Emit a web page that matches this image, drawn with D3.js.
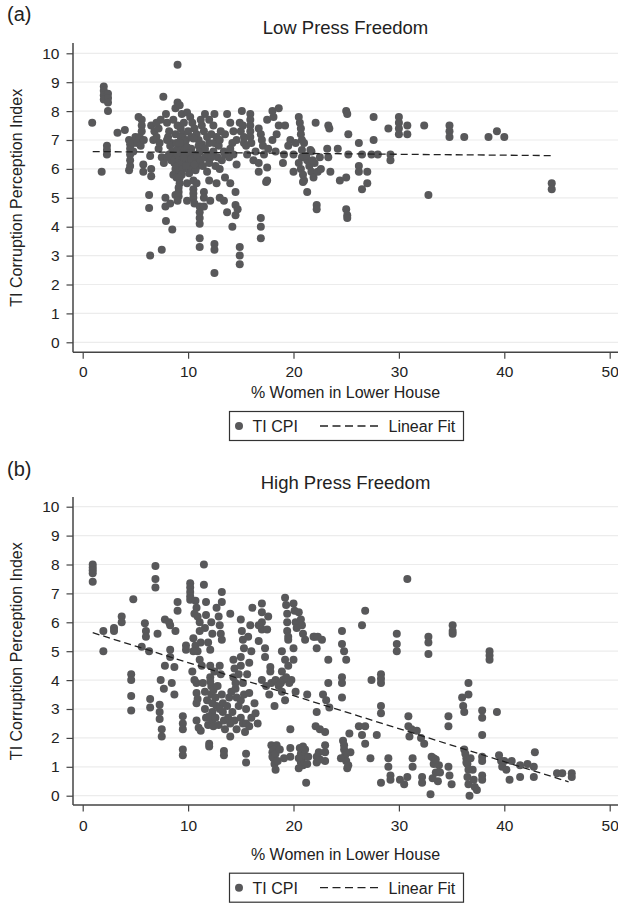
<!DOCTYPE html>
<html>
<head>
<meta charset="utf-8">
<script src="https://cdn.jsdelivr.net/npm/d3@7"></script>
<style>
  body { margin: 0; background: #fff; }
  text { font-family: "Liberation Sans", Arial, Helvetica, sans-serif; fill: #222; }
</style>
</head>
<body>
<svg id="chart" width="618" height="903"></svg>
<script>
var xTicks = [0, 10, 20, 30, 40, 50];
var yTicks = [0, 1, 2, 3, 4, 5, 6, 7, 8, 9, 10];
var legendLabels = ["TI CPI", "Linear Fit"];
var xAxisTitle = "% Women in Lower House";
var yAxisTitle = "TI Corruption Perception Index";

// panel (a): low press freedom, [% women, CPI]
var lowPressPoints = [
  [0.9,7.6],[2.0,8.85],[2.0,8.7],[2.0,8.55],[2.0,8.4],[2.4,8.6],[2.4,8.45],[2.4,8.3],[2.4,8.0],
  [2.3,6.8],[2.3,6.65],[2.3,6.5],[1.8,5.9],
  [3.3,7.25],[4.0,7.35],[4.4,7.0],[4.5,6.85],[4.5,6.7],[4.5,6.5],[4.5,6.3],[4.5,6.1],[4.4,5.95],
  [4.8,6.9],[4.8,6.6],[5.0,7.1],[5.3,7.8],[5.6,7.7],[5.6,7.5],[5.6,7.3],[5.4,7.1],[5.2,6.9],[5.5,6.8],
  [5.8,7.0],[5.75,6.15],[5.75,5.9],
  [6.5,6.0],[6.5,5.75],[6.4,6.45],[7.2,6.7],[6.5,7.5],[6.8,7.3],[7.0,7.1],[7.2,7.4],[6.7,7.0],[7.3,6.9],
  [7.65,8.5],[7.9,7.9],[8.0,7.6],[8.2,7.3],[8.1,7.1],[8.4,6.9],[8.0,7.0],
  [6.3,5.1],[6.3,4.65],[6.4,3.0],[7.5,3.2],[7.9,4.2],[8.5,3.9],[7.85,5.0],[7.85,4.7],[8.3,4.8],[8.8,5.1],
  [8.8,8.1],[9.0,8.3],[9.2,8.2],[9.4,7.9],[9.9,7.95],[9.0,9.6],[8.6,7.7],[9.0,7.5],[9.3,7.4],[9.6,7.6],
  [9.5,7.2],[9.8,7.0],[8.8,7.2],
  [8.3,6.8],[8.5,6.6],[8.6,6.4],[8.7,6.2],[8.8,6.0],[8.6,5.8],[9.0,6.7],[9.1,6.5],[9.1,6.3],[9.0,6.1],
  [9.2,5.9],[9.4,6.8],[9.6,6.6],[9.8,6.4],[10.0,6.2],[10.2,6.0],[9.7,6.9],[10.3,6.7],[10.5,6.5],[10.7,6.3],
  [10.9,6.1],[10.7,5.95],[11.0,6.8],[11.1,6.6],[9.4,6.2],[9.5,6.0],[9.6,6.4],
  [8.2,6.5],[8.4,6.3],[8.9,6.9],[9.3,7.1],[9.6,6.95],[9.9,6.75],[10.1,6.55],[10.3,6.35],[10.6,6.15],
  [10.9,6.45],[11.2,6.3],[11.4,6.1],[11.3,6.85],[10.0,7.3],[10.3,7.1],[9.2,6.9],[9.8,6.1],[10.1,5.85],
  [9.4,5.8],[8.9,5.7],[7.5,6.4],[7.7,6.2],[8.0,6.4],[7.4,7.7],[7.0,7.6],
  [10.2,7.8],[10.4,7.6],[10.6,7.4],[10.8,7.2],[11.0,7.0],[11.3,7.5],[11.5,7.3],[11.8,7.1],[12.0,6.9],
  [12.2,7.2],[12.4,7.5],[11.6,7.9],[12.5,7.9],[12.0,7.7],[11.2,7.7],[10.5,7.05],
  [12.4,6.6],[12.8,6.4],[13.2,6.3],[13.4,6.6],[12.6,6.1],[13.0,6.0],[11.6,6.4],[12.0,6.2],[11.8,5.9],
  [11.6,6.7],[11.9,6.5],[12.2,6.4],[12.5,6.9],[12.9,6.8],[13.1,7.3],[12.7,7.1],[13.5,6.5],[13.9,6.4],
  [14.3,6.5],
  [13.7,7.9],[14.0,7.6],[14.3,7.3],[14.6,7.0],[14.9,7.6],[15.0,7.3],[14.2,6.9],[14.6,6.15],[13.5,7.2],
  [13.0,7.0],[15.3,7.1],[14.0,6.7],
  [9.2,5.7],[9.2,5.5],[9.1,5.35],[9.1,5.2],[9.1,5.05],[9.0,4.9],[9.9,5.5],[9.9,4.9],[10.5,5.6],[10.5,5.3],
  [10.5,5.15],[10.5,5.0],[10.6,4.8],[10.8,5.5],
  [11.1,4.7],[11.1,4.5],[11.1,4.3],[11.1,4.1],[11.1,3.6],[11.1,3.3],[11.5,5.2],[11.5,5.0],[11.5,4.7],
  [12.1,4.9],[12.5,3.4],[12.5,3.2],[12.5,2.4],[13.0,5.0],[13.4,4.9],[13.7,4.5],[14.2,4.0],[14.5,4.75],
  [14.5,4.4],[14.7,4.6],[14.9,3.3],[14.9,3.0],[14.9,2.7],[12.0,5.6],[12.7,5.5],[13.5,5.7],[14.0,5.5],[14.5,5.2],
  [16.9,4.3],[16.9,4.0],[16.9,3.6],[17.4,5.55],
  [15.1,8.0],[15.9,7.9],[15.9,7.7],[15.9,7.5],[15.9,7.3],[15.9,7.1],[15.2,7.5],[15.3,6.9],[16.7,7.4],
  [16.9,7.2],[17.0,7.0],[17.1,6.8],[17.2,6.5],[17.5,7.7],[18.0,8.0],[18.6,8.1],[18.1,7.8],[18.6,7.5],
  [19.2,7.5],[19.7,7.0],[20.5,7.8],[20.6,7.6],[20.7,7.4],[20.7,7.2],[20.8,7.0],
  [15.5,6.8],[16.0,6.9],[16.4,6.6],[18.0,7.0],[18.4,7.2],[19.5,6.8],[19.0,6.2],
  [15.6,6.5],[16.2,6.3],[17.6,6.7],[18.3,6.6],[19.1,6.5],[20.8,6.65],[20.8,6.4],[21.6,6.65],[16.7,6.2],
  [16.7,5.9],[17.5,6.05],[17.5,5.6],[20.0,5.9],
  [20.5,6.2],[20.7,6.0],[20.9,5.8],[21.0,5.6],[21.3,6.3],[21.5,6.1],[21.7,5.9],[21.9,5.7],[22.0,6.2],
  [21.2,6.45],[20.9,5.55],[21.3,5.2],[22.2,4.75],[22.2,4.6],[22.5,6.4],[23.3,6.4],[21.7,6.6],[22.1,7.6],
  [23.3,7.5],[23.4,7.4],[20.0,6.5],[20.2,6.9],[21.0,6.9],[21.8,6.3],[22.3,5.9],[22.6,6.0],
  [24.2,6.7],[23.2,6.7],[23.5,5.9],[24.4,5.6],[25.0,5.7],[25.0,4.6],[25.1,4.4],[25.1,4.3],[25.0,8.0],
  [25.1,7.9],[27.6,7.8],[30.0,7.8],[25.2,7.2],[26.2,6.9],[27.6,7.0],[29.0,7.4],[30.0,7.6],[30.0,7.4],
  [30.0,7.2],[30.8,7.5],[30.8,7.2],[25.2,6.5],[26.5,6.5],[27.4,6.5],[28.0,6.5],[29.2,6.5],[29.2,6.3],
  [26.2,6.1],[26.2,5.9],[27.0,5.9],[27.0,5.5],[26.5,5.3],
  [32.4,7.5],[34.8,7.5],[34.8,7.3],[34.8,7.1],[36.2,7.1],[38.5,7.1],[39.3,7.3],[40.0,7.1],[32.8,5.1],
  [44.5,5.5],[44.5,5.3]
];
var lowPressFit = [[0.95, 6.60], [44.4, 6.46]];

// panel (b): high press freedom, [% women, CPI]
var highPressPoints = [
  [0.95,8.0],[0.95,7.9],[0.95,7.8],[0.95,7.7],[0.95,7.4],[1.96,5.7],[1.96,5.0],[2.97,5.8],[2.97,5.7],
  [3.7,6.2],[3.7,6.0],[4.8,6.8],
  [4.6,4.2],[4.6,4.0],[4.6,3.45],[4.6,2.95],[5.6,5.15],[5.9,5.97],[6.0,5.7],[6.0,5.5],[6.3,5.0],
  [6.4,3.35],[6.4,3.05],[6.9,7.95],[6.9,7.5],[6.9,7.2],[7.1,5.6],
  [7.3,3.15],[7.3,2.9],[7.3,2.65],[7.5,2.3],[7.5,2.05],[7.4,4.0],[7.7,3.7],[7.8,4.5],[7.8,6.1],[8.3,5.9],
  [8.8,5.7],[8.3,5.05],[8.3,4.8],[8.7,4.45],[8.7,3.5],[9.0,6.7],[9.0,6.4],[8.45,3.9],[8.2,6.0],
  [9.5,2.75],[9.5,2.5],[9.5,2.3],[9.5,1.6],[9.5,1.4],[9.8,5.2],[9.8,5.05],[10.2,7.35],[10.2,7.2],
  [10.2,7.05],[10.2,6.9],[10.2,6.78],[10.7,6.75],[10.8,6.5],[10.9,6.2],[11.1,6.0],[10.6,6.3],
  [10.5,5.45],[10.7,5.2],[10.9,5.0],[11.1,4.7],[11.3,4.5],[10.5,5.0],[11.2,5.3],
  [10.8,3.9],[10.8,3.55],[10.8,3.2],[10.9,3.35],[10.8,2.6],[11.0,2.35],[11.2,2.25],
  [10.4,4.3],[10.6,4.0],[11.4,3.9],[11.6,3.6],[11.8,3.3],[11.6,3.0],[11.7,2.7],[11.9,2.45],
  [11.9,5.3],[12.3,5.6],[11.6,5.8],[12.2,6.0],[11.1,5.7],
  [11.5,8.0],[11.5,7.3],[11.7,6.7],[11.7,6.25],[12.1,5.05],[12.1,4.5],[12.0,1.8],[12.0,1.7],[12.1,4.1],
  [12.2,3.8],[12.2,3.5],[12.3,3.2],[12.3,2.9],[12.3,2.6],[12.4,2.4],[12.1,3.95],[12.4,3.65],[12.0,2.75],
  [12.6,2.7],[12.7,3.1],[12.6,3.4],[12.5,4.3],[12.9,2.45],
  [12.7,6.5],[12.9,6.2],[13.0,5.9],[13.1,5.6],[13.2,5.4],[13.2,7.05],[13.2,6.7],[13.0,4.5],[13.1,4.2],
  [13.2,3.5],[13.3,3.2],[13.3,2.9],[13.4,2.6],[13.5,2.3],[13.4,1.55],[13.4,1.4],[12.8,3.8],[13.0,3.0],
  [13.7,3.1],[13.8,2.7],[13.9,3.4],[14.1,3.6],[14.4,2.6],[14.6,2.3],[14.8,4.2],[14.4,4.4],
  [14.0,6.3],[14.0,2.05],[14.3,4.7],[14.3,4.1],[14.5,3.7],[14.6,3.4],[14.8,3.1],[15.0,2.7],[15.2,2.5],
  [14.5,3.9],[15.0,3.3],[15.0,6.1],[15.1,5.7],[15.2,5.4],[15.3,5.1],[15.0,4.8],[15.0,4.5],[15.2,3.9],
  [15.3,3.5],[15.5,3.0],[15.5,2.5],[15.4,2.2],[15.5,1.45],[15.5,1.15],[14.2,2.9],[14.0,2.5],
  [15.8,2.4],[16.0,2.7],[16.3,3.2],[15.6,4.2],[15.8,4.6],[16.0,5.0],[15.7,5.5],[15.9,5.9],
  [15.8,3.55],[16.1,6.5],[16.4,2.85],[16.6,2.5],[16.7,5.35],[17.0,6.65],[17.0,6.35],[17.0,6.0],[17.0,5.75],
  [16.7,5.9],[17.5,5.75],[17.3,5.1],[17.3,4.8],[17.0,4.0],[17.4,3.8],[17.6,6.2],[17.8,4.45],[17.8,4.3],
  [17.7,3.5],[17.9,3.9],
  [17.9,1.75],[18.0,1.5],[18.1,1.3],[18.2,1.1],[18.3,0.9],[18.0,1.35],[18.4,1.75],[18.2,3.1],[18.3,4.0],
  [18.6,3.8],[18.9,3.6],[19.2,3.3],[18.8,3.9],[19.0,4.0],
  [18.1,1.6],[18.3,1.45],[18.5,1.2],[18.7,1.6],[19.1,1.3],
  [18.9,5.0],[19.2,4.7],[19.5,4.5],[19.2,6.85],[19.3,6.6],[19.4,6.3],[19.4,6.0],[19.4,5.7],[19.5,5.5],
  [19.5,5.4],[19.7,2.3],[19.7,1.65],[19.7,1.35],[20.0,6.65],[20.1,6.4],[20.2,6.0],[20.3,5.8],[20.0,5.1],
  [20.0,4.7],[20.5,6.35],[20.7,6.1],[20.8,5.9],[20.9,5.6],[21.1,5.4],[20.6,1.65],[20.7,1.45],[20.8,1.25],
  [20.9,1.05],[21.0,1.4],[20.7,1.15],[21.1,1.6],[21.2,0.45],[21.3,3.5],
  [19.8,4.0],[20.2,3.6],[19.6,3.9],[18.9,4.3],[19.3,4.1],
  [20.5,1.3],[21.3,1.1],[21.4,1.35],[20.9,1.7],[20.5,0.95],
  [22.0,5.5],[22.2,5.1],[22.2,2.9],[22.1,2.4],[22.5,2.3],[23.0,2.2],[22.2,1.35],[22.2,1.15],[22.7,5.4],
  [22.8,3.5],[23.1,3.3],[23.4,3.05],[23.0,1.75],[23.0,1.5],[23.0,1.2],[23.3,4.7],[23.3,3.9],[21.9,5.5],
  [22.3,5.5],[22.5,1.25],[22.4,1.5],
  [24.6,5.7],[24.6,5.25],[24.8,5.0],[25.0,4.7],[24.6,4.1],[24.6,3.9],[24.6,3.4],[24.7,1.9],[24.8,1.6],
  [24.9,1.4],[25.0,1.2],[25.1,0.95],[25.3,2.15],[25.4,1.5],[26.2,2.4],[26.5,2.1],[26.8,1.8],[26.8,2.4],
  [26.5,5.9],[26.8,6.4],[27.3,1.3],[27.4,4.0],[27.9,2.1],[24.8,1.75],[25.2,1.05],[24.5,1.3],
  [28.3,4.2],[28.3,4.05],[28.3,3.9],[28.3,3.1],[28.3,2.85],[28.3,0.45],[29.0,1.3],[29.0,1.0],[29.2,0.7],
  [29.2,0.55],[29.8,5.6],[29.8,5.25],[29.8,5.0],[30.1,0.55],[30.5,0.4],[30.8,0.65],[30.8,7.5],[30.9,2.75],
  [30.9,2.4],[31.0,2.05],[31.3,1.3],[31.3,1.0],[31.2,2.3],
  [31.7,2.25],[32.1,2.0],[32.4,1.8],[32.2,0.65],[32.2,0.45],[32.8,5.5],[32.8,5.3],[32.8,4.9],[33.0,0.05],
  [33.1,1.35],[33.3,1.1],[33.5,0.8],[33.7,0.5],[33.3,1.3],[33.8,1.05],[34.7,1.0],[34.8,0.7],[35.0,0.4],
  [33.5,1.25],[33.9,0.8],[33.2,0.6],
  [34.7,2.75],[34.7,2.4],[35.1,5.9],[35.1,5.7],[35.1,5.6],
  [36.0,3.4],[36.1,3.1],[36.2,2.9],[36.2,1.6],[36.4,1.3],[36.6,0.9],[36.5,1.1],[36.5,0.65],[36.6,0.4],
  [36.7,0.0],[37.1,0.55],[37.4,0.2],[36.6,3.9],[36.6,3.5],[37.9,2.95],[37.9,2.7],[37.9,2.1],[37.9,1.35],
  [36.3,1.45],[36.4,1.15],[36.8,1.3],[37.0,0.9],[37.2,0.3],
  [37.9,1.2],[37.9,0.7],[37.9,0.55],[38.6,5.0],[38.6,4.85],[38.6,4.7],[39.3,2.9],[39.5,1.4],[39.7,1.2],
  [39.8,1.0],
  [40.0,1.2],[40.2,0.9],[40.5,0.55],[40.7,1.2],[41.5,1.05],[41.5,0.65],[42.2,1.1],[42.8,1.0],[42.8,0.65],
  [42.9,1.5],[45.0,0.78],[45.5,0.78],[46.4,0.78],[46.4,0.65]
];
var highPressFit = [[0.95, 5.64], [46.1, 0.48]];

var dotColor = "#58585a";
var svg = d3.select("#chart");

var x = d3.scaleLinear().domain([0, 50]).range([82.7, 609.7]);
var axisX = 73, plotRight = 618;

var panels = [
  { letter: "(a)", title: "Low Press Freedom", points: lowPressPoints, fit: lowPressFit,
    top: 53.3, bottom: 342.3, axisY: 352.3, axisTop: 43, tickPad: 7.5,
    letterY: 21, titleY: 34.3, xTitleY: 397.5, legendY: 411 },
  { letter: "(b)", title: "High Press Freedom", points: highPressPoints, fit: highPressFit,
    top: 506.7, bottom: 795.7, axisY: 805, axisTop: 497, tickPad: 8.5,
    letterY: 476, titleY: 488.5, xTitleY: 859.5, legendY: 872.7 }
];

panels.forEach(function(p) {
  var y = d3.scaleLinear().domain([0, 10]).range([p.bottom, p.top]);
  var g = svg.append("g");

  // grid lines
  g.selectAll("line.grid").data(yTicks).enter().append("line")
    .attr("class", "grid")
    .attr("x1", axisX).attr("x2", plotRight)
    .attr("y1", function(d) { return y(d); }).attr("y2", function(d) { return y(d); })
    .attr("stroke", "#ececec").attr("stroke-width", 1.2);

  // y axis
  var yAxis = g.append("g").attr("transform", "translate(" + axisX + ",0)")
    .call(d3.axisLeft(y).tickValues(yTicks).tickSize(6.5).tickPadding(7));
  yAxis.select(".domain").remove();
  yAxis.selectAll(".tick line").attr("stroke", "#444").attr("stroke-width", 1.2);
  yAxis.selectAll(".tick text").style("font-size", "15.5px").attr("fill", "#222");

  // x axis
  var xAxis = g.append("g").attr("transform", "translate(0," + p.axisY + ")")
    .call(d3.axisBottom(x).tickValues(xTicks).tickSize(6.5).tickPadding(p.tickPad));
  xAxis.select(".domain").remove();
  xAxis.selectAll(".tick line").attr("stroke", "#444").attr("stroke-width", 1.2);
  xAxis.selectAll(".tick text").style("font-size", "15.5px").attr("fill", "#222");

  // axis lines
  g.append("line").attr("x1", axisX).attr("x2", axisX).attr("y1", p.axisTop).attr("y2", p.axisY)
    .attr("stroke", "#444").attr("stroke-width", 1.5);
  g.append("line").attr("x1", axisX).attr("x2", plotRight).attr("y1", p.axisY).attr("y2", p.axisY)
    .attr("stroke", "#444").attr("stroke-width", 1.5);

  // points
  g.selectAll("circle.pt").data(p.points).enter().append("circle")
    .attr("class", "pt")
    .attr("cx", function(d) { return x(d[0]); })
    .attr("cy", function(d) { return y(d[1]); })
    .attr("r", 4)
    .attr("fill", dotColor);

  // linear fit
  g.append("path")
    .attr("d", d3.line().x(function(d) { return x(d[0]); }).y(function(d) { return y(d[1]); })(p.fit))
    .attr("fill", "none").attr("stroke", "#222").attr("stroke-width", 1.3)
    .attr("stroke-dasharray", "7,4");

  // texts
  g.append("text").attr("x", 7).attr("y", p.letterY).style("font-size", "20px").text(p.letter);
  g.append("text").attr("x", (axisX + plotRight) / 2).attr("y", p.titleY)
    .attr("text-anchor", "middle").style("font-size", "18.5px").text(p.title);
  g.append("text").attr("x", (axisX + plotRight) / 2).attr("y", p.xTitleY)
    .attr("text-anchor", "middle").style("font-size", "16px").text(xAxisTitle);
  g.append("text")
    .attr("transform", "translate(21.5," + ((p.top + p.bottom) / 2) + ") rotate(-90)")
    .attr("text-anchor", "middle").style("font-size", "16px").text(yAxisTitle);

  // legend
  var lg = g.append("g").attr("transform", "translate(229," + p.legendY + ")");
  lg.append("rect").attr("x", 0.5).attr("y", 0.5).attr("width", 234).attr("height", 29)
    .attr("fill", "#fff").attr("stroke", "#333").attr("stroke-width", 1.2);
  lg.append("circle").attr("cx", 10).attr("cy", 15).attr("r", 4).attr("fill", dotColor);
  lg.append("text").attr("x", 23.5).attr("y", 21).style("font-size", "16px").text(legendLabels[0]);
  lg.append("line").attr("x1", 91).attr("x2", 151).attr("y1", 15).attr("y2", 15)
    .attr("stroke", "#222").attr("stroke-width", 1.3).attr("stroke-dasharray", "8,4.5");
  lg.append("text").attr("x", 159.5).attr("y", 21).style("font-size", "16px").text(legendLabels[1]);
});
</script>
</body>
</html>
